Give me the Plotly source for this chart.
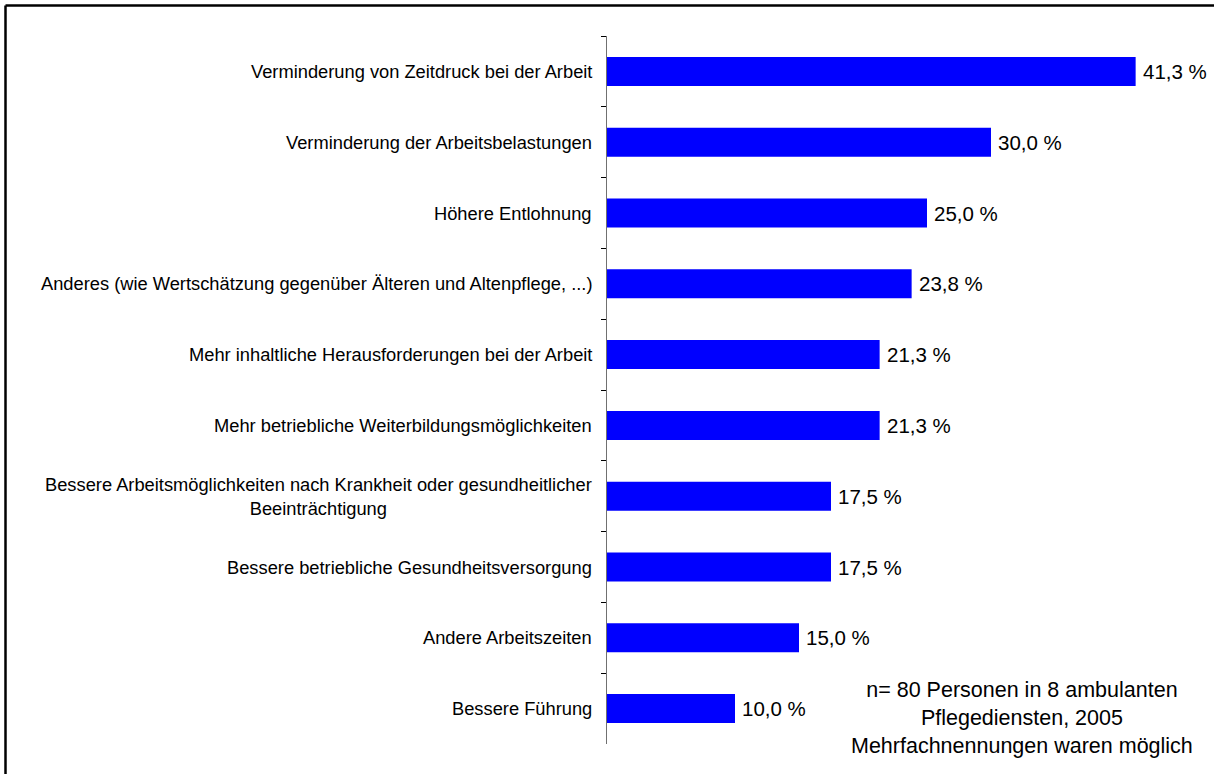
import plotly.graph_objects as go

categories = [
    "Verminderung von Zeitdruck bei der Arbeit",
    "Verminderung der Arbeitsbelastungen",
    "Höhere Entlohnung",
    "Anderes (wie Wertschätzung gegenüber Älteren und Altenpflege, ...)",
    "Mehr inhaltliche Herausforderungen bei der Arbeit",
    "Mehr betriebliche Weiterbildungsmöglichkeiten",
    "Bessere Arbeitsmöglichkeiten nach Krankheit oder gesundheitlicher<br>Beeinträchtigung",
    "Bessere betriebliche Gesundheitsversorgung",
    "Andere Arbeitszeiten",
    "Bessere Führung",
]
values = [41.3, 30.0, 25.0, 23.8, 21.3, 21.3, 17.5, 17.5, 15.0, 10.0]
note_text = "n= 80 Personen in 8 ambulanten<br>Pflegediensten, 2005<br>Mehrfachnennungen waren möglich"

FONT = "Arial, Liberation Sans, sans-serif"

W, H = 1214, 774
ML, MR, MT, MB = 607, 31, 36, 30
PW = W - ML - MR
PH = H - MT - MB

fig = go.Figure(go.Bar(
    x=values, y=categories, orientation="h",
    marker=dict(color="#0000FF", line=dict(width=0)),
    hoverinfo="skip",
))

annotations = []
for c in categories:
    annotations.append(dict(
        x=0, xref="paper", y=c, yref="y", text=c, showarrow=False,
        xanchor="right", yanchor="middle", align="center", xshift=-13,
        font=dict(family=FONT, size=18.3, color="#000000"),
    ))
for c, v in zip(categories, values):
    annotations.append(dict(
        x=v, xref="x", y=c, yref="y",
        text=f"{v:.1f}".replace(".", ",") + " %", showarrow=False,
        xanchor="left", yanchor="middle", xshift=5,
        font=dict(family=FONT, size=20.5, color="#000000"),
    ))
annotations.append(dict(
    x=(1022 - ML) / PW, xref="paper", y=(H - MB - 718) / PH, yref="paper",
    text=note_text, showarrow=False, xanchor="center", yanchor="middle",
    align="center", font=dict(family=FONT, size=21.5, color="#000000"),
))

def px_x(p):
    return (p - ML) / PW

def px_y(p):
    return (H - MB - p) / PH

shapes = [
    dict(type="line", xref="paper", yref="paper",
         x0=px_x(5.5), x1=px_x(W + 5), y0=px_y(5.5), y1=px_y(5.5),
         line=dict(color="#000000", width=2.5)),
    dict(type="line", xref="paper", yref="paper",
         x0=px_x(5.5), x1=px_x(5.5), y0=px_y(5.5), y1=px_y(H + 5),
         line=dict(color="#000000", width=2.5)),
]

fig.update_layout(
    width=W, height=H,
    margin=dict(l=ML, r=MR, t=MT, b=MB, pad=0),
    paper_bgcolor="white", plot_bgcolor="white",
    bargap=0.59, showlegend=False,
    annotations=annotations, shapes=shapes,
    xaxis=dict(visible=False, range=[0, 45], fixedrange=True),
    yaxis=dict(
        autorange="reversed", showticklabels=False, fixedrange=True,
        showline=True, linecolor="#707070", linewidth=1,
        ticks="outside", ticklen=5, tickcolor="#000000", tickwidth=1,
        tickson="boundaries", showgrid=False, zeroline=False,
    ),
    font=dict(family=FONT),
)

fig.write_html(
    "out.html",
    config={"displayModeBar": False},
    post_script="document.body.style.margin='0';document.body.style.overflow='hidden';",
)
